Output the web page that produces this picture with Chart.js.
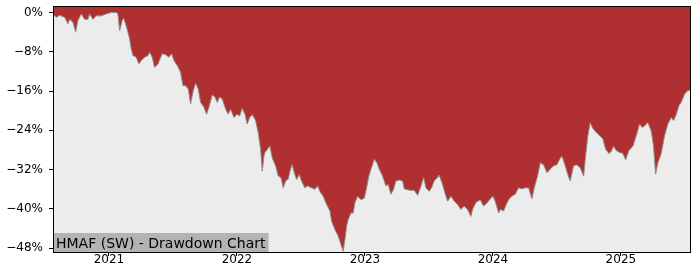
<!DOCTYPE html>
<html>
<head>
<meta charset="utf-8">
<script src="https://cdn.jsdelivr.net/npm/chart.js@4.4.1/dist/chart.umd.min.js"></script>
<style>
  body { margin: 0; background: #fff; }
</style>
</head>
<body>
<canvas id="grafico" width="700" height="280"></canvas>
<script>
// time as decimal years, drawdown in percent
const years = [
  2020.563, 2020.588, 2020.615, 2020.654, 2020.680, 2020.693, 2020.719, 2020.740, 2020.758, 2020.784,
  2020.810, 2020.836, 2020.849, 2020.875, 2020.901, 2020.940, 2020.979, 2021.018, 2021.057, 2021.070,
  2021.084, 2021.104, 2021.115, 2021.130, 2021.148, 2021.162, 2021.174, 2021.188, 2021.213, 2021.234,
  2021.252, 2021.279, 2021.305, 2021.318, 2021.338, 2021.357, 2021.383, 2021.416, 2021.443, 2021.469,
  2021.490, 2021.508, 2021.534, 2021.560, 2021.578, 2021.599, 2021.620, 2021.638, 2021.659, 2021.677,
  2021.698, 2021.716, 2021.742, 2021.763, 2021.781, 2021.807, 2021.828, 2021.846, 2021.865, 2021.885,
  2021.912, 2021.932, 2021.951, 2021.977, 2022.002, 2022.021, 2022.041, 2022.063, 2022.080, 2022.099,
  2022.120, 2022.146, 2022.166, 2022.185, 2022.198, 2022.211, 2022.219, 2022.240, 2022.258, 2022.276,
  2022.302, 2022.323, 2022.344, 2022.362, 2022.380, 2022.401, 2022.414, 2022.432, 2022.448, 2022.466,
  2022.487, 2022.505, 2022.531, 2022.552, 2022.584, 2022.609, 2022.630, 2022.648, 2022.674, 2022.701,
  2022.727, 2022.740, 2022.766, 2022.791, 2022.813, 2022.830, 2022.844, 2022.857, 2022.870, 2022.891,
  2022.909, 2022.922, 2022.943, 2022.969, 2022.995, 2023.013, 2023.031, 2023.047, 2023.073, 2023.094,
  2023.112, 2023.138, 2023.164, 2023.182, 2023.203, 2023.224, 2023.242, 2023.268, 2023.295, 2023.307,
  2023.334, 2023.359, 2023.385, 2023.412, 2023.438, 2023.459, 2023.477, 2023.502, 2023.521, 2023.541,
  2023.568, 2023.580, 2023.607, 2023.625, 2023.646, 2023.672, 2023.698, 2023.724, 2023.750, 2023.776,
  2023.802, 2023.828, 2023.841, 2023.867, 2023.901, 2023.927, 2023.953, 2023.974, 2024.000, 2024.018,
  2024.045, 2024.057, 2024.084, 2024.104, 2024.123, 2024.148, 2024.174, 2024.201, 2024.227, 2024.252,
  2024.279, 2024.305, 2024.323, 2024.349, 2024.370, 2024.396, 2024.422, 2024.448, 2024.474, 2024.500,
  2024.521, 2024.539, 2024.565, 2024.584, 2024.604, 2024.630, 2024.656, 2024.682, 2024.709, 2024.724,
  2024.742, 2024.760, 2024.781, 2024.807, 2024.834, 2024.859, 2024.880, 2024.906, 2024.924, 2024.943,
  2024.963, 2024.990, 2025.016, 2025.037, 2025.063, 2025.094, 2025.120, 2025.146, 2025.166, 2025.185,
  2025.211, 2025.237, 2025.255, 2025.271, 2025.289, 2025.315, 2025.341, 2025.367, 2025.393, 2025.412,
  2025.432, 2025.453, 2025.471, 2025.498, 2025.523, 2025.541
];

const drawdown = [
  -0.3, -1.0, -0.6, -1.0, -2.3, -1.4, -2.0, -4.0, -1.6, -0.3,
  -1.4, -1.4, -0.3, -1.4, -0.7, -0.7, -0.3, 0.0, 0.0, -0.3,
  -3.7, -1.6, -1.2, -2.3, -4.0, -5.4, -7.4, -8.8, -9.1, -10.5,
  -9.8, -9.1, -8.8, -8.1, -9.1, -11.2, -10.5, -8.4, -8.6, -9.1,
  -8.4, -9.8, -10.8, -12.2, -14.9, -14.9, -15.6, -18.6, -15.9, -14.4,
  -15.6, -18.3, -19.3, -20.7, -19.3, -16.8, -17.2, -18.3, -17.2, -17.6,
  -19.7, -20.7, -19.7, -21.4, -20.7, -21.1, -19.5, -20.7, -22.7, -21.4,
  -20.8, -22.0, -24.4, -27.8, -32.3, -29.2, -28.5, -27.8, -27.2, -29.6,
  -31.2, -33.3, -33.6, -35.7, -34.3, -33.9, -32.3, -30.9, -32.6, -34.0,
  -33.0, -34.3, -35.7, -35.3, -35.7, -36.0, -35.3, -36.4, -37.4, -39.1,
  -40.4, -42.5, -44.2, -45.5, -47.2, -48.6, -46.2, -43.5, -42.1, -40.8,
  -40.8, -38.7, -37.4, -38.1, -37.8, -35.7, -33.3, -31.9, -29.9, -30.6,
  -31.9, -33.3, -35.3, -35.0, -37.0, -36.0, -34.3, -34.1, -34.3, -35.9,
  -36.1, -36.2, -36.2, -37.2, -35.3, -33.6, -35.7, -36.4, -35.7, -34.3,
  -33.6, -33.1, -35.0, -36.7, -38.4, -37.4, -38.4, -39.1, -40.1, -39.4,
  -40.1, -41.5, -40.1, -38.7, -38.1, -39.4, -38.8, -38.1, -37.4, -38.4,
  -40.8, -40.1, -40.4, -39.1, -38.1, -37.4, -37.0, -35.7, -35.9, -35.7,
  -35.7, -37.9, -35.7, -33.3, -30.6, -31.0, -32.6, -31.9, -31.2, -31.0,
  -29.9, -29.2, -31.2, -32.9, -34.3, -31.2, -31.0, -31.6, -33.3, -29.2,
  -25.1, -22.4, -23.6, -24.4, -25.1, -25.7, -27.8, -28.7, -28.3, -27.2,
  -28.1, -28.5, -28.7, -30.0, -28.1, -27.2, -25.1, -22.7, -23.4, -23.1,
  -22.4, -24.1, -27.2, -32.9, -30.6, -28.7, -25.1, -22.7, -21.4, -22.0,
  -20.8, -19.0, -18.3, -16.6, -15.9, -15.9
];

const xTicks = [2021, 2022, 2023, 2024, 2025];
const yTicks = [0, -8, -16, -24, -32, -40, -48];
const titulo = "HMAF (SW) - Drawdown Chart";

const fuente = "'DejaVu Sans', sans-serif";

const fondoPlugin = {
    id: 'fondo',
    beforeDraw(chart) {
        const { ctx, chartArea: a } = chart;
        ctx.save();
        ctx.fillStyle = '#ffffff';
        ctx.fillRect(0, 0, chart.width, chart.height);
        ctx.fillStyle = '#ececec';
        ctx.fillRect(a.left, a.top, a.right - a.left, a.bottom - a.top);
        ctx.restore();
    },
    afterDraw(chart) {
        const { ctx, chartArea: a } = chart;
        ctx.save();
        // caja del titulo
        ctx.font = "14px " + fuente;
        const w = ctx.measureText(titulo).width;
        ctx.fillStyle = '#b3b3b3';
        ctx.fillRect(a.left, a.bottom - 19, w + 6, 19);
        ctx.fillStyle = '#000';
        ctx.textBaseline = 'alphabetic';
        ctx.fillText(titulo, a.left + 3, a.bottom - 4.5);
        // marco
        ctx.strokeStyle = '#000';
        ctx.lineWidth = 1;
        ctx.strokeRect(Math.round(a.left) + 0.5, Math.round(a.top) - 0.5, Math.round(a.right - a.left), Math.round(a.bottom - a.top) + 1);
        ctx.restore();
    }
};

const sinPadding = s => {
    s.paddingTop = 0;
    s.paddingBottom = 0;
    s.paddingLeft = 0;
    s.paddingRight = 0;
};

const ctx = document.getElementById("grafico").getContext("2d");

const chart = new Chart(ctx, {
    type: 'line',
    data: {
        datasets: [{
            label: 'Drawdown',
            data: years.map((t, i) => ({ x: t, y: drawdown[i] })),
            borderColor: '#8c8c8c',
            borderWidth: 1,
            backgroundColor: '#b03031',
            fill: 'end',
            pointRadius: 0,
            tension: 0
        }]
    },
    options: {
        responsive: false,
        animation: false,
        layout: { padding: { top: 7, right: 10, left: 0, bottom: 0 } },
        plugins: {
            legend: { display: false },
            tooltip: { enabled: false }
        },
        scales: {
            x: {
                type: 'linear',
                min: 2020.563,
                max: 2025.54,
                afterFit(s) { s.height = 28; sinPadding(s); },
                afterBuildTicks(s) { s.ticks = xTicks.map(v => ({ value: v })); },
                grid: { drawOnChartArea: false, tickLength: 4, color: '#000' },
                border: { display: false },
                ticks: {
                    font: { family: fuente, size: 12 },
                    color: '#000',
                    padding: -3,
                    maxRotation: 0,
                    callback: v => String(v)
                }
            },
            y: {
                min: -48.75,
                max: 1.1,
                afterFit(s) { s.width = 53; sinPadding(s); },
                afterBuildTicks(s) { s.ticks = yTicks.map(v => ({ value: v })); },
                grid: { drawOnChartArea: false, tickLength: 4, color: '#000' },
                border: { display: false },
                ticks: {
                    font: { family: fuente, size: 12 },
                    color: '#000',
                    padding: 6,
                    callback: v => (v < 0 ? '\u2212' + Math.abs(v) : v) + '%'
                }
            }
        }
    },
    plugins: [fondoPlugin]
});
</script>
</body>
</html>
